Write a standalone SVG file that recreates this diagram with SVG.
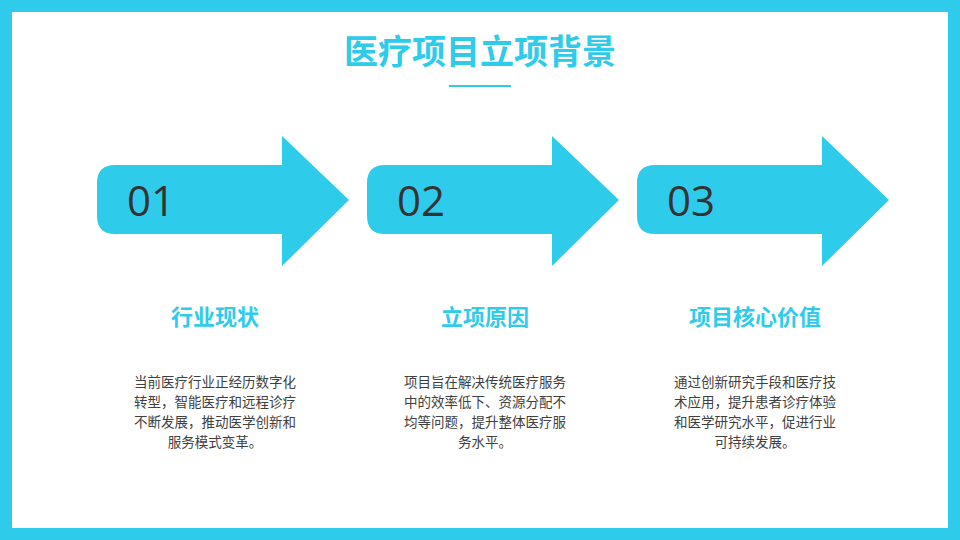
<svg xmlns="http://www.w3.org/2000/svg" width="960" height="540" viewBox="0 0 960 540">
<defs>
<style>
.a{fill:#2ECBEA}
.n{font-family:"Open Sans","Noto Sans",sans-serif;font-size:42px;fill:#333}
.h{font-family:"Noto Sans CJK SC",sans-serif;font-size:22px;font-weight:bold;fill:#2ECBEA;text-anchor:middle}
.b{font-family:"Noto Sans CJK SC",sans-serif;font-size:13.5px;fill:#404040;text-anchor:middle}
</style>
<path id="arr" class="a" d="M115,165 H282 V136 L349,200 L282,266 V234 H115 Q97,234 97,216 V183 Q97,165 115,165 Z"/>
</defs>
<rect width="960" height="540" fill="#fff"/>
<rect x="6" y="6" width="948" height="528" fill="none" stroke="#2ECBEA" stroke-width="12"/>
<g id="title">
<text x="480" y="64" font-family="Noto Sans CJK SC,sans-serif" font-size="34" font-weight="bold" fill="#2ECBEA" text-anchor="middle">医疗项目立项背景</text>
<rect x="449" y="85" width="62" height="2" fill="#2ECBEA"/>
</g>
<g id="node1">
<use href="#arr"/>
<text class="n" x="127" y="216">01</text>
<text class="h" x="215" y="325">行业现状</text>
<text class="b"><tspan x="215" y="387">当前医疗行业正经历数字化</tspan><tspan x="215" y="407">转型，智能医疗和远程诊疗</tspan><tspan x="215" y="427">不断发展，推动医学创新和</tspan><tspan x="215" y="447">服务模式变革。</tspan></text>
</g>
<g id="node2">
<use href="#arr" x="270"/>
<text class="n" x="397" y="216">02</text>
<text class="h" x="485" y="325">立项原因</text>
<text class="b"><tspan x="485" y="387">项目旨在解决传统医疗服务</tspan><tspan x="485" y="407">中的效率低下、资源分配不</tspan><tspan x="485" y="427">均等问题，提升整体医疗服</tspan><tspan x="485" y="447">务水平。</tspan></text>
</g>
<g id="node3">
<use href="#arr" x="540"/>
<text class="n" x="667" y="216">03</text>
<text class="h" x="755" y="325">项目核心价值</text>
<text class="b"><tspan x="755" y="387">通过创新研究手段和医疗技</tspan><tspan x="755" y="407">术应用，提升患者诊疗体验</tspan><tspan x="755" y="427">和医学研究水平，促进行业</tspan><tspan x="755" y="447">可持续发展。</tspan></text>
</g>
<g id="connectors"></g>
</svg>
